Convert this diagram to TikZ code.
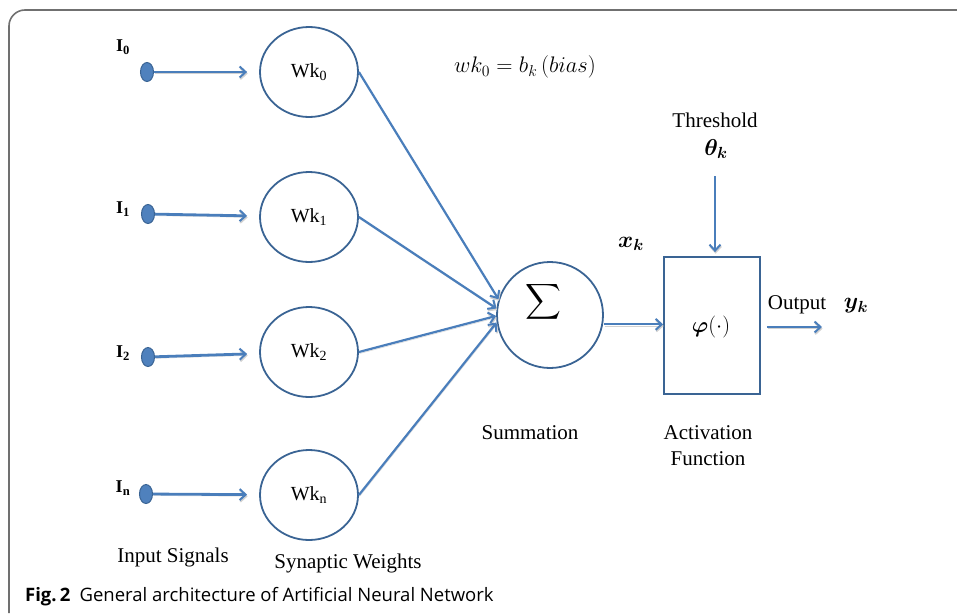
\RequirePackage{fix-cm}
\documentclass[tikz,border=0pt]{standalone}
\usepackage{amsmath,bm}
\usepackage{fontspec}
\setmainfont{Liberation Serif}
\newfontfamily\capfont{Open Sans}
\usetikzlibrary{arrows.meta,shapes.geometric,calc}

\definecolor{linkblue}{HTML}{4A7EBB}
\definecolor{rimblue}{HTML}{3A6494}
\definecolor{dotblue}{HTML}{4F81BD}
\definecolor{framegray}{HTML}{707070}

\begin{document}
\begin{tikzpicture}[x=1pt,y=-1pt,
  every node/.style={font=\fontsize{21}{24}\selectfont, inner sep=0pt},
  arr/.style={draw=linkblue, line width=2.2pt,
    -{Straight Barb[length=6pt,width=11pt,line width=2pt]},
    preaction={draw=black!18, transform canvas={shift={(0.6pt,-1.6pt)}}}},
  inarr/.style={arr, line width=2.8pt},
  inputdot/.style={ellipse, minimum width=13pt, minimum height=19pt,
    fill=dotblue, draw=rimblue, line width=1pt},
  weight/.style={ellipse, minimum width=98pt, minimum height=90pt,
    draw=rimblue, line width=1.8pt, font=\fontsize{20}{22}\selectfont},
  inlabel/.style={font=\fontsize{18}{20}\selectfont\bfseries},
  mathlabel/.style={font=\fontsize{23}{26}\selectfont},
]
\useasboundingbox (0,0) rectangle (957,613);

% outer frame (open on the right and bottom)
\draw[framegray, line width=1.6pt, rounded corners=16pt]
  (9,613) -- (9,10) -- (958,10);

% input signals
\node[inputdot] (i0) at (147,72)  {};
\node[inputdot] (i1) at (148,214) {};
\node[inputdot] (i2) at (148,357) {};
\node[inputdot] (in) at (146,494) {};
\node[inlabel] (l0) at (123,47)  {I\textsubscript{0}};
\node[inlabel] (l1) at (123,209) {I\textsubscript{1}};
\node[inlabel] (l2) at (123,353) {I\textsubscript{2}};
\node[inlabel] (ln) at (123,488) {I\textsubscript{n}};

% synaptic weights
\node[weight] (w0) at (309,72)  {Wk\textsubscript{0}};
\node[weight] (w1) at (309,217) {Wk\textsubscript{1}};
\node[weight] (w2) at (309,352) {Wk\textsubscript{2}};
\node[weight] (wn) at (309,495) {Wk\textsubscript{n}};

\foreach \a/\b in {i0/w0, i1/w1, i2/w2, in/wn}
  \draw[inarr, shorten >=12pt] (\a) -- (\b);

% summation junction
\node[circle, minimum size=106pt, draw=rimblue, line width=1.8pt] (sum) at (550,315) {};
\node (sig) at (543,302) {\fontsize{30}{30}\selectfont$\displaystyle\sum$};

\draw[arr] (w0.east) -- (sum.163);
\draw[arr] (w1.east) -- (sum.173);
\draw[arr] (w2.east) -- (sum.181);
\draw[arr] (wn.east) -- (sum.188);

% activation function box
\node[rectangle, draw=rimblue, line width=1.8pt, minimum width=96pt,
  minimum height=137pt] (act) at (712,325.5) {};
\node[font=\fontsize{22}{24}\selectfont] (phi) at (711,327) {$\bm{\varphi}(\cdot)$};

\draw[arr, shorten <=1pt] (sum.-10) -- (sum.-10 -| act.west);

% threshold input
\node (thr) at (715,120) {Threshold};
\node[mathlabel] (theta) at (716,149) {$\bm{\theta_k}$};
\coordinate (thrtail) at (715,176);
\draw[arr, shorten >=4pt] (thrtail) -- (thrtail |- act.north);

% output
\coordinate (outend) at (822,327);
\draw[arr, shorten <=6pt] (act.east |- outend) -- (outend);
\node (outl) at (797,305) {Output};
\node[mathlabel] (yk) at (856,306) {$\bm{y_k}$};
\node[mathlabel] (xk) at (631,244) {$\bm{x_k}$};

% bias note
\node[font=\fontsize{22.5}{26}\selectfont] (bias) at (525,67) {$wk_0 = b_k\,(bias)$};

% captions under the stages
\node (cin)  at (173,557) {Input Signals};
\node (cw)   at (348,563) {Synaptic Weights};
\node (csum) at (530,433) {Summation};
\node[align=center, font=\fontsize{21}{26}\selectfont] (cact) at (708,446) {Activation\\Function};

% figure caption
\node[anchor=west, font=\fontsize{18.5}{20}\selectfont\capfont] (cap) at (25,597)
  {\textbf{Fig.\,2}\enspace General architecture of Artificial Neural Network};
\end{tikzpicture}
\end{document}
